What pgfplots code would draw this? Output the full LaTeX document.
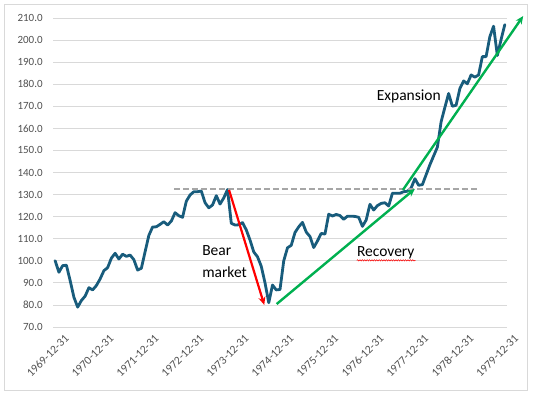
\documentclass[border=0pt]{standalone}
\usepackage{fontspec}
\setmainfont{Carlito}
\usepackage{pgfplots}
\pgfplotsset{compat=1.18}
\usetikzlibrary{arrows.meta,decorations.pathmorphing}
\definecolor{lineblue}{RGB}{24,92,124}
\definecolor{exgreen}{RGB}{0,176,80}
\definecolor{gridgray}{RGB}{217,217,217}
\definecolor{ticklab}{RGB}{80,80,80}
\definecolor{dashgray}{RGB}{166,166,166}
\pgfplotstableread{
m v
0 100
1 94.8
2 97.8
3 98
4 91
5 83.5
6 79
7 82
8 84
9 87.8
10 86.8
11 88.8
12 91.8
13 95.5
14 96.9
15 101.2
16 103.4
17 100.8
18 103
19 102
20 102.6
21 100.5
22 95.8
23 96.6
24 104.1
25 111.5
26 115.3
27 115.4
28 116.5
29 117.7
30 116.2
31 118
32 121.8
33 120.4
34 119.7
35 127
36 129.8
37 131.3
38 131.3
39 131.6
40 126.3
41 124
42 125.3
43 129.5
44 125.7
45 128.5
46 132.3
47 117
48 116.2
49 116.3
50 117.3
51 114
52 109.4
53 104
54 101.8
55 97.5
56 90
57 81
58 89
59 86.8
60 87
61 100
62 105.9
63 107
64 112.8
65 115.4
66 117.4
67 113
68 111
69 106
70 109
71 112.4
72 112.1
73 121.1
74 120.3
75 121
76 120.5
77 118.8
78 120.2
79 120.2
80 120.1
81 119.7
82 115.6
83 118.5
84 125.6
85 123
86 125
87 126
88 126.3
89 124.8
90 130.6
91 130.6
92 130.6
93 131.3
94 131.5
95 133
96 137.2
97 134.2
98 134.5
99 139
100 143.5
101 147.5
102 151.5
103 163
104 169.5
105 175.8
106 170
107 170.5
108 178
109 181.5
110 180.2
111 184.2
112 183.2
113 184.2
114 192.5
115 192.5
116 201.5
117 206.3
118 193
119 200.2
120 207
}\datatable
\begin{document}
\begin{tikzpicture}
\useasboundingbox (0,0) rectangle (535pt,397pt);
\draw[gridgray, line width=0.75pt] (4.5pt,7pt) rectangle (527pt,392.5pt);
\begin{axis}[
  at={(53.3pt,70pt)}, anchor=south west,
  scale only axis, width=453.4pt, height=309pt,
  xmin=-0.5, xmax=120.5, ymin=70, ymax=210,
  axis line style={draw=none},
  tick style={draw=none},
  major tick length=0pt,
  xtick={0,12,...,120},
  xticklabels={1969-12-31,1970-12-31,1971-12-31,1972-12-31,1973-12-31,1974-12-31,1975-12-31,1976-12-31,1977-12-31,1978-12-31,1979-12-31},
  ytick={70,80,...,210},
  ymajorgrids,
  grid style={gridgray, line width=0.75pt},
  ticklabel style={font=\fontsize{11}{13}\selectfont, text=ticklab},
  xticklabel style={font=\fontsize{11.6}{13}\selectfont, rotate=45, anchor=north east, inner sep=0pt, xshift=1.5pt, yshift=-11pt},
  yticklabel style={anchor=east, inner sep=0pt, xshift=-10.5pt,
    /pgf/number format/fixed, /pgf/number format/fixed zerofill, /pgf/number format/precision=1},
  /pgf/number format/assume math mode=true,
  clip=false,
]
\addplot[lineblue, line width=2.8pt, line join=round, line cap=round] table[x=m,y=v] {\datatable};
\draw[dashgray, line width=1.8pt, dash pattern=on 6pt off 3pt] (axis cs:31.7,132.4) -- (axis cs:113.3,132.4);
\draw[red, line width=2.2pt, -{Stealth[length=8pt,width=7pt]}] (axis cs:46.4,132.1) -- (axis cs:55.8,80);
\draw[exgreen, line width=2.4pt, -{Stealth[length=8pt,width=7pt]}] (axis cs:59.1,80.4) -- (axis cs:96,132.6);
\draw[exgreen, line width=2.4pt, -{Stealth[length=8pt,width=7pt]}] (axis cs:92.8,132.1) -- (axis cs:124.9,210.9);
\node[anchor=base west, inner sep=0pt, font=\fontsize{15.5}{18}\selectfont] at (axis cs:39.2,102.6) {Bear};
\node[anchor=base west, inner sep=0pt, font=\fontsize{15.5}{18}\selectfont] at (axis cs:39.2,92.6) {market};
\node[anchor=base west, inner sep=0pt, font=\fontsize{15.5}{18}\selectfont] at (axis cs:80.5,101.8) {Recovery};
\node[anchor=base west, inner sep=0pt, font=\fontsize{15.5}{18}\selectfont] at (axis cs:85.8,172.8) {Expansion};
\draw[red, line width=0.5pt, decorate, decoration={snake, amplitude=0.7pt, segment length=2.4pt}] (axis cs:80.5,100.2) -- (axis cs:96.2,100.2);
\end{axis}
\end{tikzpicture}
\end{document}
